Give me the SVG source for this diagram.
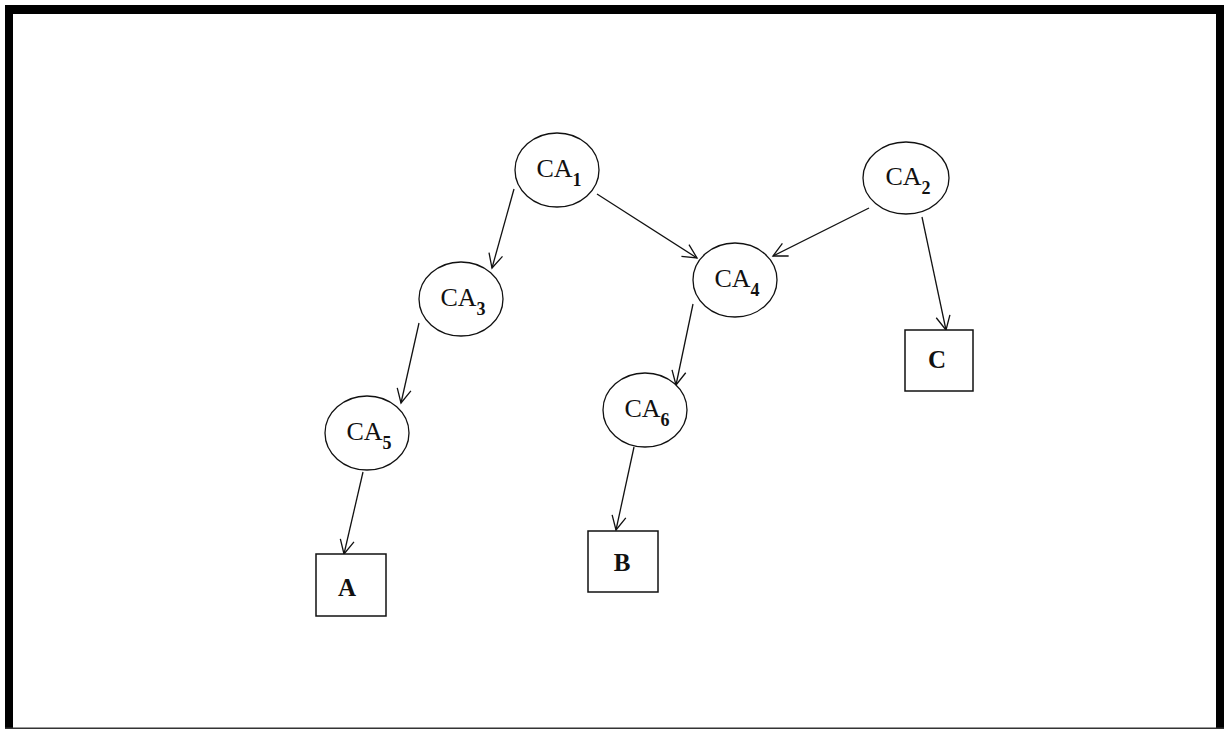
<svg xmlns="http://www.w3.org/2000/svg" width="1224" height="731" viewBox="0 0 1224 731">
<style>
.node ellipse{fill:#fff;stroke:#111;stroke-width:1.3}
.node rect{fill:#fff;stroke:#111;stroke-width:1.5}
.ca{font-family:"Liberation Serif","Times New Roman",serif;font-size:26px;fill:#111}
.sub{font-size:18px;font-weight:bold}
.lbl{font-family:"Liberation Serif","Times New Roman",serif;font-size:25px;font-weight:bold;fill:#111}
.edges line{stroke:#111;stroke-width:1.3;fill:none;marker-end:url(#arr)}
</style>
<defs>
<marker id="arr" markerUnits="userSpaceOnUse" markerWidth="18" markerHeight="18" refX="15" refY="9" orient="auto">
<path d="M1,2 L15,9 L1,16" fill="none" stroke="#111" stroke-width="1.3"/>
</marker>
</defs>
<rect x="0" y="0" width="1224" height="731" fill="#fff"/>
<g id="border">
<rect x="5" y="5" width="1219" height="9" fill="#000"/>
<rect x="5" y="5" width="8" height="724" fill="#000"/>
<rect x="1216" y="5" width="8" height="724" fill="#000"/>
<rect x="5" y="727.5" width="1219" height="1.5" fill="#333"/>
</g>
<g id="edges" class="edges">
<line x1="514" y1="189" x2="492" y2="268"/>
<line x1="597" y1="194" x2="697" y2="258"/>
<line x1="869" y1="208" x2="773" y2="256"/>
<line x1="922" y1="217" x2="946" y2="330"/>
<line x1="693" y1="304" x2="676" y2="385"/>
<line x1="419" y1="323" x2="401" y2="403"/>
<line x1="363" y1="472" x2="344" y2="554"/>
<line x1="634" y1="447" x2="616" y2="530"/>
</g>
<g id="CA1" class="node"><ellipse cx="557" cy="170" rx="42" ry="37"/><text class="ca" x="559" y="177" text-anchor="middle">CA<tspan class="sub" dy="9">1</tspan></text></g>
<g id="CA2" class="node"><ellipse cx="906" cy="178" rx="43" ry="36"/><text class="ca" x="908" y="185" text-anchor="middle">CA<tspan class="sub" dy="9">2</tspan></text></g>
<g id="CA3" class="node"><ellipse cx="461" cy="299" rx="42" ry="37"/><text class="ca" x="463" y="306" text-anchor="middle">CA<tspan class="sub" dy="9">3</tspan></text></g>
<g id="CA4" class="node"><ellipse cx="735" cy="280" rx="42" ry="37"/><text class="ca" x="737" y="287" text-anchor="middle">CA<tspan class="sub" dy="9">4</tspan></text></g>
<g id="CA5" class="node"><ellipse cx="367" cy="433" rx="42" ry="37"/><text class="ca" x="369" y="440" text-anchor="middle">CA<tspan class="sub" dy="9">5</tspan></text></g>
<g id="CA6" class="node"><ellipse cx="645" cy="410" rx="42" ry="37"/><text class="ca" x="647" y="417" text-anchor="middle">CA<tspan class="sub" dy="9">6</tspan></text></g>
<g id="A" class="node"><rect x="316" y="554" width="70" height="62"/><text class="lbl" x="347" y="596" text-anchor="middle">A</text></g>
<g id="B" class="node"><rect x="588" y="531" width="70" height="61"/><text class="lbl" x="622" y="571" text-anchor="middle">B</text></g>
<g id="C" class="node"><rect x="905" y="330" width="68" height="61"/><text class="lbl" x="937" y="368" text-anchor="middle">C</text></g>
</svg>
